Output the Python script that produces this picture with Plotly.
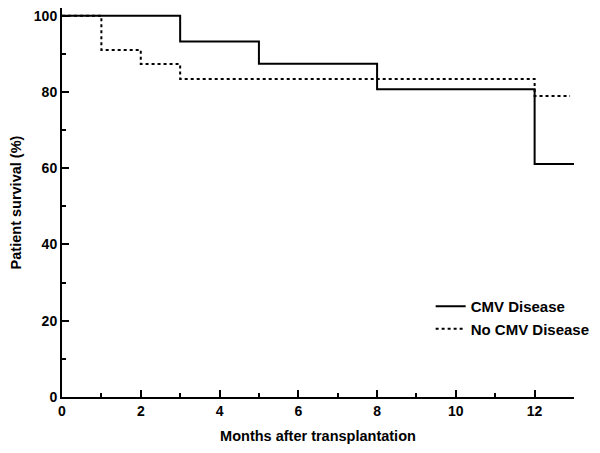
import plotly.graph_objects as go

# Data (months after transplantation, patient survival %)
cmv_months = [0, 3, 5, 8, 12, 13]
cmv_survival = [100, 93.2, 87.4, 80.7, 61.1, 61.1]

nocmv_months = [0, 1, 2, 3, 12, 12.9]
nocmv_survival = [100, 91.0, 87.3, 83.4, 78.9, 78.9]

x_ticks = [0, 2, 4, 6, 8, 10, 12]
y_ticks = [0, 20, 40, 60, 80, 100]

FAM = "Liberation Sans, Arial, sans-serif"
font = dict(family=FAM, size=14, color="black", weight="bold")

fig = go.Figure()
fig.add_trace(go.Scatter(x=cmv_months, y=cmv_survival, mode="lines", line_shape="hv",
                         line=dict(color="black", width=2), name="CMV Disease"))
fig.add_trace(go.Scatter(x=nocmv_months, y=nocmv_survival, mode="lines", line_shape="hv",
                         line=dict(color="black", width=2, dash="dot"), name="No CMV Disease"))

# page body has an 8px default margin, so the figure is sized to fit the window
fig.update_layout(
    width=592, height=445,
    margin=dict(l=54, r=26, t=0, b=56, autoexpand=False),
    plot_bgcolor="white", paper_bgcolor="white",
    font=font,
    showlegend=True,
    legend=dict(x=0.720, y=0.275, xanchor="left", yanchor="top",
                font=dict(family=FAM, size=15, color="black", weight="bold"),
                bgcolor="rgba(0,0,0,0)", tracegroupgap=0, itemwidth=30),
    xaxis=dict(range=[0, 13], tickvals=x_ticks, ticks="inside", ticklen=7, tickwidth=2,
               tickcolor="black", showline=True, linecolor="black", linewidth=2,
               showgrid=False, zeroline=False, automargin=False, ticklabeloverflow="allow",
               minor=dict(dtick=1, tick0=0, ticks="inside", ticklen=4, tickwidth=2, tickcolor="black"),
               title=dict(text="Months after transplantation", standoff=13,
                          font=dict(family=FAM, size=14.5, weight="bold"))),
    yaxis=dict(range=[0, 102], tickvals=y_ticks, ticks="inside", ticklen=7, tickwidth=2,
               tickcolor="black", showline=True, linecolor="black", linewidth=2,
               showgrid=False, zeroline=False, automargin=False, ticklabeloverflow="allow",
               minor=dict(dtick=10, tick0=0, ticks="inside", ticklen=4, tickwidth=2, tickcolor="black"),
               title=dict(text="Patient survival (%)", standoff=12,
                          font=dict(family=FAM, size=14.5, weight="bold"))),
)

fig.write_html("out.html")
